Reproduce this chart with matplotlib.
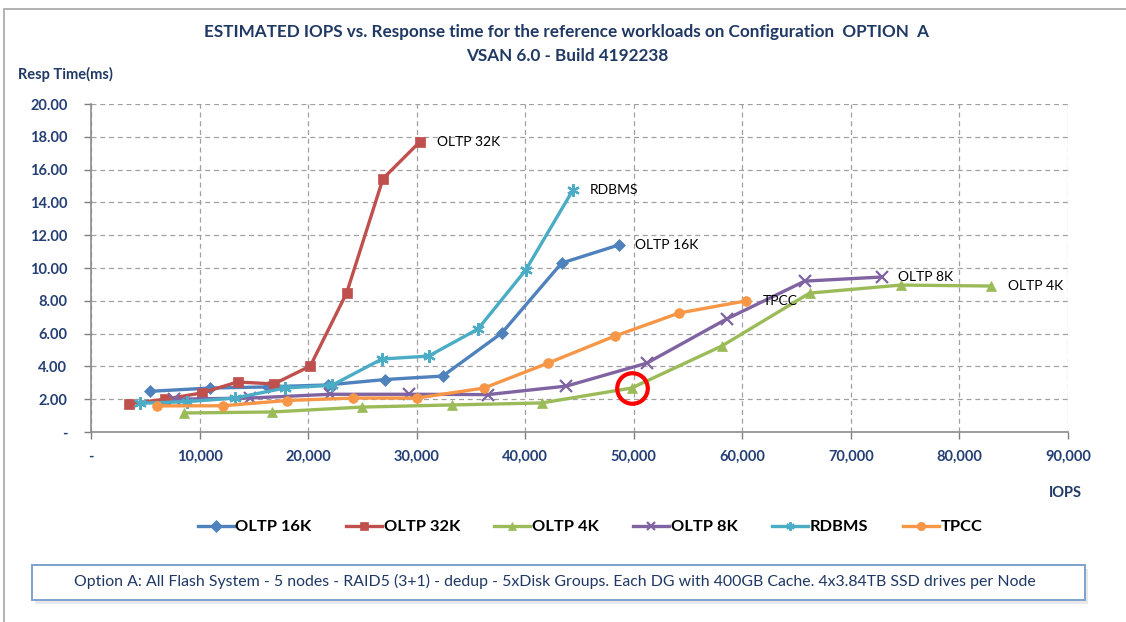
import matplotlib as mpl
import matplotlib.pyplot as plt
from matplotlib.patches import Rectangle
from matplotlib.ticker import FixedLocator, FuncFormatter

mpl.rcParams["font.family"] = ["Lato", "DejaVu Sans"]

# IOPS / response time (ms) per workload
oltp16_iops = [5430, 10950, 16300, 21800, 27100, 32400, 37850, 43350, 48600]
oltp16_ms = [2.48, 2.68, 2.75, 2.87, 3.2, 3.41, 6.04, 10.3, 11.4]

oltp32_iops = [3500, 6800, 10200, 13500, 16850, 20200, 23550, 26900, 30300]
oltp32_ms = [1.72, 2.0, 2.38, 3.05, 2.93, 4.02, 8.48, 15.45, 17.7]

oltp4_iops = [8550, 16650, 24950, 33250, 41500, 49800, 58100, 66200, 74600, 82950]
oltp4_ms = [1.16, 1.22, 1.52, 1.65, 1.77, 2.68, 5.24, 8.47, 8.96, 8.9]

oltp8_iops = [7600, 14650, 22000, 29300, 36550, 43800, 51200, 58550, 65750, 72850]
oltp8_ms = [2.0, 2.07, 2.3, 2.3, 2.28, 2.8, 4.2, 6.89, 9.2, 9.45]

rdbms_iops = [4500, 8800, 13250, 17850, 22200, 26800, 31100, 35650, 40050, 44400]
rdbms_ms = [1.75, 1.85, 2.07, 2.68, 2.85, 4.45, 4.63, 6.28, 9.88, 14.76]

tpcc_iops = [6050, 12150, 18050, 24150, 30000, 36200, 42100, 48250, 54200, 60300]
tpcc_ms = [1.59, 1.6, 1.92, 2.07, 2.07, 2.68, 4.2, 5.85, 7.26, 7.99]

series = [
    ("OLTP 16K", oltp16_iops, oltp16_ms, "#4F81BD", "D", 6.5),
    ("OLTP 32K", oltp32_iops, oltp32_ms, "#C0504D", "s", 7),
    ("OLTP 4K", oltp4_iops, oltp4_ms, "#9BBB59", "^", 7),
    ("OLTP 8K", oltp8_iops, oltp8_ms, "#8064A2", "x", 8),
    ("RDBMS", rdbms_iops, rdbms_ms, "#4BACC6", (6, 2, 0), 9),
    ("TPCC", tpcc_iops, tpcc_ms, "#F79646", "o", 7),
]

# highlighted point on the OLTP 4K curve
mark_iops = 49800
mark_ms = 2.68

NAVY = "#1F3864"
TICK_NAVY = "#243F74"

fig = plt.figure(figsize=(11.26, 6.22), dpi=100)
ax = fig.add_axes([91 / 1126, 1 - 432 / 622, (1068 - 91) / 1126, (432 - 104) / 622])

# outer chart frame
fig.patches.append(Rectangle((4 / 1126, -0.02), 1.1, 1 - 9 / 622 + 0.02,
                             transform=fig.transFigure, fill=False,
                             edgecolor="#A6A6A6", linewidth=1.2))

for name, xs, ys, color, marker, ms in series:
    ax.plot(xs, ys, color=color, linewidth=2.4, marker=marker, markersize=ms,
            markeredgewidth=1.6 if marker in ("x", (6, 2, 0)) else 0.5,
            markeredgecolor=color, label=name, zorder=3)
    ax.annotate(name, (xs[-1], ys[-1]), xytext=(12, 0), textcoords="offset points",
                va="center", ha="left", fontsize=10, color="black", zorder=5)

ax.plot([mark_iops], [mark_ms], marker="o", markersize=22, fillstyle="none",
        markeredgecolor="#FF0000", markeredgewidth=3, linestyle="none", zorder=6)

ax.set_xlim(0, 90000)
ax.set_ylim(0, 20)
ax.xaxis.set_major_locator(FixedLocator(range(0, 90001, 10000)))
ax.yaxis.set_major_locator(FixedLocator([i * 2 for i in range(11)]))
ax.xaxis.set_major_formatter(FuncFormatter(lambda v, p: "-" if v == 0 else f"{int(v):,}"))
ax.yaxis.set_major_formatter(FuncFormatter(lambda v, p: "-" if v == 0 else f"{v:.2f}"))
ax.tick_params(axis="both", colors="#7F7F7F", labelcolor=TICK_NAVY, length=5, width=1,
               labelsize=10.5)
for lab in ax.get_xticklabels() + ax.get_yticklabels():
    lab.set_fontweight("bold")
ax.tick_params(axis="x", pad=8)
ax.tick_params(axis="y", pad=12)

ax.grid(True, color="#A0A0A0", linestyle=(0, (4, 3)), linewidth=0.9)
ax.set_axisbelow(True)
for side in ("top", "right"):
    ax.spines[side].set_visible(False)
for side in ("left", "bottom"):
    ax.spines[side].set_color("#8C8C8C")
    ax.spines[side].set_linewidth(1.2)

fig.text(567 / 1126, 1 - 32 / 622,
         "ESTIMATED IOPS vs. Response time for the reference workloads on Configuration  OPTION  A",
         ha="center", va="center", fontsize=12.3, fontweight="bold", color=NAVY)
fig.text(567 / 1126, 1 - 56 / 622, "VSAN 6.0 - Build 4192238",
         ha="center", va="center", fontsize=12.3, fontweight="bold", color=NAVY)
fig.text(18 / 1126, 1 - 74 / 622, "Resp Time(ms)", ha="left", va="center",
         fontsize=10.5, fontweight="bold", color=NAVY)
fig.text(1065 / 1126, 1 - 493 / 622, "IOPS", ha="center", va="center",
         fontsize=10.5, fontweight="bold", color=NAVY)

leg = fig.legend(loc="center", bbox_to_anchor=(590 / 1126, 1 - 527 / 622), ncol=6,
                 frameon=False, fontsize=11.8, handlelength=2.2, columnspacing=2.1,
                 handletextpad=0.1)
for txt in leg.get_texts():
    txt.set_fontweight("bold")
for h in leg.legend_handles:
    h.set_markersize(6)

# caption box with soft shadow
bx, by, bw, bh = 32 / 1126, 1 - 600 / 622, (1085 - 32) / 1126, 35 / 622
fig.patches.append(Rectangle((bx + 3 / 1126, by - 4 / 622), bw, bh, transform=fig.transFigure,
                             facecolor="#D9D9D9", edgecolor="none", alpha=0.6, zorder=1))
fig.patches.append(Rectangle((bx, by), bw, bh, transform=fig.transFigure,
                             facecolor="white", edgecolor="#7FA1CF", linewidth=1.4, zorder=2))
fig.text(555 / 1126, 1 - 581 / 622,
         "Option A: All Flash System - 5 nodes - RAID5 (3+1) - dedup - 5xDisk Groups. "
         "Each DG with 400GB Cache. 4x3.84TB SSD drives per Node",
         ha="center", va="center", fontsize=11.4, color="#1F3864", zorder=3)

fig.savefig("out.png", dpi=100)
